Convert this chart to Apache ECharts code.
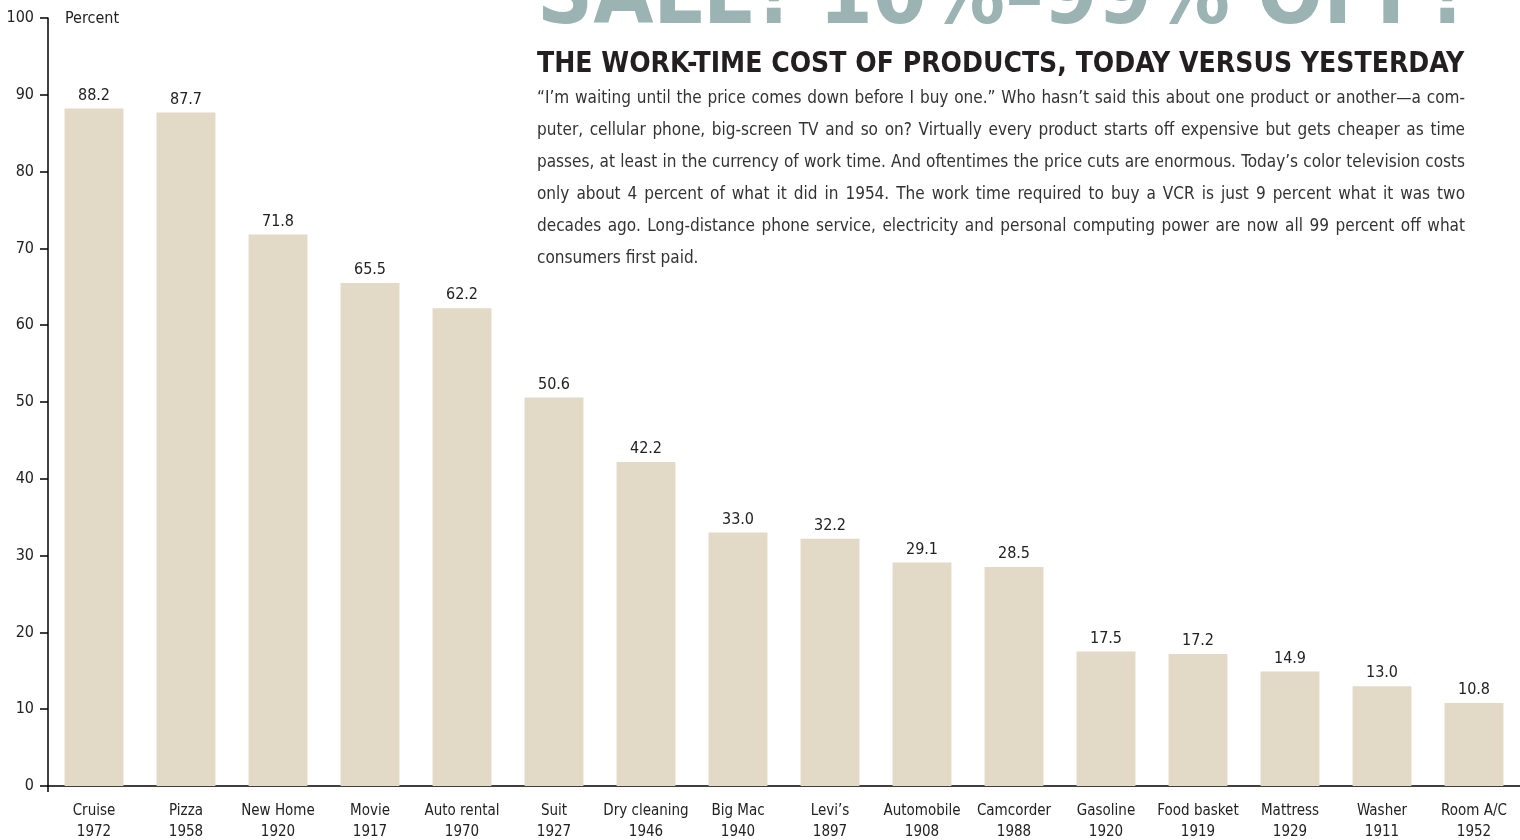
<!DOCTYPE html>
<html><head><meta charset="utf-8">
<script src="https://cdn.jsdelivr.net/npm/echarts@6/dist/echarts.min.js"></script>
<style>html,body{margin:0;padding:0;background:#fff}#c{width:1520px;height:840px}</style>
</head><body><div id="c"></div>
<script>
const categories = ['Cruise','Pizza','New Home','Movie','Auto rental','Suit','Dry cleaning','Big Mac','Levi\u2019s','Automobile','Camcorder','Gasoline','Food basket','Mattress','Washer','Room A/C'];
const years = ['1972','1958','1920','1917','1970','1927','1946','1940','1897','1908','1988','1920','1919','1929','1911','1952'];
const values = [88.2,87.7,71.8,65.5,62.2,50.6,42.2,33.0,32.2,29.1,28.5,17.5,17.2,14.9,13.0,10.8];
const titleText = 'SALE! 10%\u201399% OFF!';
const subtitleText = 'THE WORK-TIME COST OF PRODUCTS, TODAY VERSUS YESTERDAY';
const paragraphLines = [
  '\u201cI\u2019m waiting until the price comes down before I buy one.\u201d Who hasn\u2019t said this about one product or another\u2014a com-',
  'puter, cellular phone, big-screen TV and so on? Virtually every product starts off expensive but gets cheaper as time',
  'passes, at least in the currency of work time. And oftentimes the price cuts are enormous. Today\u2019s color television costs',
  'only about 4 percent of what it did in 1954. The work time required to buy a VCR is just 9 percent what it was two',
  'decades ago. Long-distance phone service, electricity and personal computing power are now all 99 percent off what',
  'consumers first paid.'
];

const NARROW = "'DejaVu Sans Condensed', sans-serif";
const ctx = document.createElement('canvas').getContext('2d');
function fitSize(text, weight, family, width) {
  ctx.font = weight + ' 100px ' + family;
  return 100 * width / ctx.measureText(text).width;
}
const TX = 537, TW = 928;
const graphics = [];
const tSize = fitSize(titleText, 'bold', NARROW, TW);
graphics.push({type:'text', x: TX + TW, y: 32 - tSize*0.36, style:{text: titleText, font: 'bold ' + tSize + 'px ' + NARROW, fill:'#9bb3b3', align:'right', verticalAlign:'middle'}});
const sSize = fitSize(subtitleText, 'bold', NARROW, TW);
graphics.push({type:'text', x: TX, y: 65, style:{text: subtitleText, font: 'bold ' + sSize + 'px ' + NARROW, fill:'#231f20', align:'left', verticalAlign:'middle'}});

let pSize = 19;
paragraphLines.slice(0, -1).forEach(line => {
  pSize = Math.min(pSize, fitSize(line, 'normal', NARROW, TW - 6));
});
const pFont = pSize + "px " + NARROW;
ctx.font = pFont;
paragraphLines.forEach((line, li) => {
  const y = 99 + li * 32;
  const words = line.split(' ');
  const widths = words.map(w => ctx.measureText(w).width);
  const total = widths.reduce((a,b)=>a+b,0);
  const justify = li < paragraphLines.length - 1;
  const gap = justify ? (TW - total) / (words.length - 1) : ctx.measureText(' ').width;
  let cx = TX;
  words.forEach((w, i) => {
    graphics.push({type:'text', x: cx, y, style:{text: w, font: pFont, fill:'#333', align:'left', verticalAlign:'middle'}});
    cx += widths[i] + gap;
  });
});
graphics.push({type:'text', x: 65, y: 19, style:{text:'Percent', font: '16px ' + NARROW, fill:'#222', align:'left', verticalAlign:'middle'}});
graphics.push({type:'line', shape:{x1: 48, y1: 786, x2: 48, y2: 792}, style:{stroke:'#000', lineWidth: 1.5}});

const chart = echarts.init(document.getElementById('c'));
chart.setOption({
  animation: false,
  grid: {left: 48, right: 0, top: 18, bottom: 54, containLabel: false, outerBoundsMode: 'none'},
  xAxis: {
    type: 'category',
    data: categories.map((c, i) => c + '\n' + years[i]),
    axisLine: {lineStyle: {color: '#000', width: 1.5}},
    axisTick: {show: false},
    axisLabel: {fontSize: 15, fontFamily: NARROW, color: '#222', lineHeight: 21, margin: 15, interval: 0}
  },
  yAxis: {
    type: 'value', min: 0, max: 100, interval: 10,
    axisLine: {show: true, lineStyle: {color: '#000', width: 1.5}},
    axisTick: {show: true, length: 8, lineStyle: {color: '#000', width: 1.5}},
    splitLine: {show: false},
    axisLabel: {fontSize: 16, fontFamily: NARROW, color: '#222', margin: 14}
  },
  series: [{
    type: 'bar',
    data: values,
    barCategoryGap: '36%',
    itemStyle: {color: '#e2d9c6'},
    label: {show: true, position: 'top', distance: 5, fontSize: 16, fontFamily: NARROW, color: '#222', formatter: p => p.value.toFixed(1)}
  }],
  graphic: graphics
});
</script></body></html>
